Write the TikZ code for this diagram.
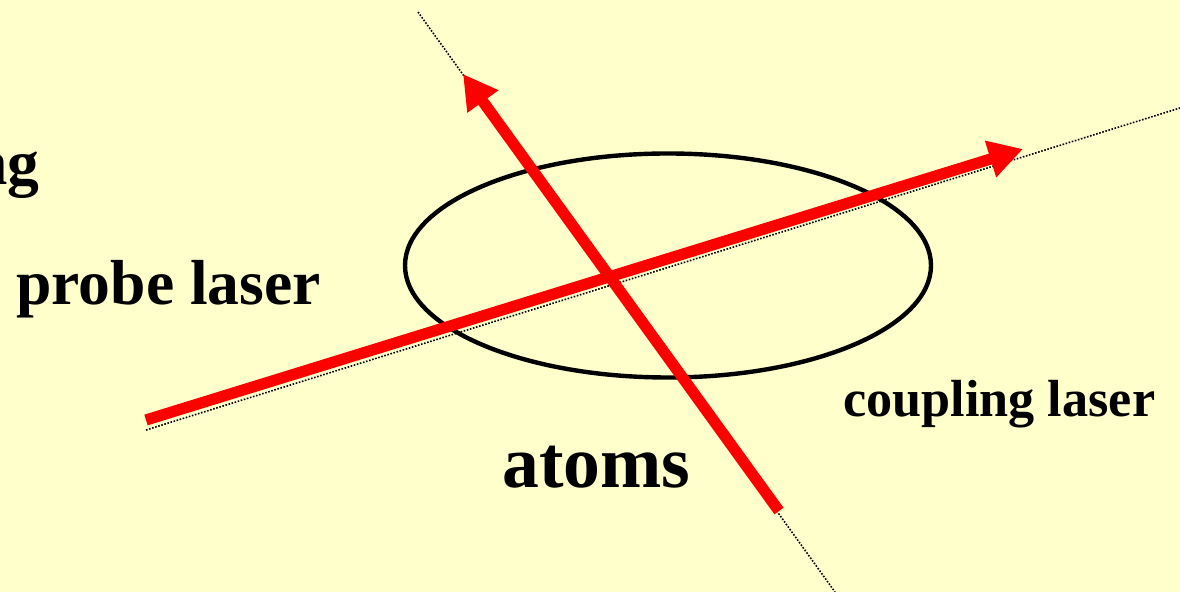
\documentclass[tikz,border=0pt]{standalone}
\usepackage{fontspec}
\setmainfont{Liberation Serif}
\usetikzlibrary{arrows.meta,shapes.geometric}
\definecolor{bgyellow}{RGB}{255,255,204}
\definecolor{laserred}{RGB}{255,0,0}
\tikzset{
  beam/.style={draw=laserred, line width=5.6pt, -{Triangle[length=17pt,width=18pt]}},
  axis/.style={draw=black, line width=0.8pt, dash pattern=on 0.8pt off 0.8pt},
  cloud/.style={ellipse, draw=black, line width=2.2pt, inner sep=0pt},
  lbl/.style={inner sep=0pt, anchor=base west, font=\bfseries},
}
\begin{document}
\begin{tikzpicture}[x=0.5pt,y=-0.5pt]
\fill[bgyellow] (0,0) rectangle (1180,592);
\useasboundingbox (0,0) rectangle (1180,592);
\clip (0,0) rectangle (1180,592);
% atom cloud
\node[cloud, minimum width=263pt, minimum height=112pt] (atoms) at (668,265.5) {};
% beam axes
\coordinate (cA) at (418,12);
\coordinate (cB) at (835,592);
\coordinate (pA) at (146,430);
\coordinate (pB) at (1180,108);
\draw[axis] (cA) -- (cB);
\draw[axis] (pA) -- (pB);
% beams
\coordinate (cStart) at (779,511);
\coordinate (cTip) at (463,74);
\coordinate (pStart) at (146,420);
\coordinate (pTip) at (1023,149);
\draw[beam] (cStart) -- (cTip);
\draw[beam] (pStart) -- (pTip);
% labels
\node[lbl, font=\bfseries\fontsize{31.8pt}{36pt}\selectfont] (probe) at (16,305) {probe laser};
\node[lbl, font=\bfseries\fontsize{26.1pt}{30pt}\selectfont] (coupling) at (843,417) {coupling laser};
\node[lbl, font=\bfseries\fontsize{36.8pt}{42pt}\selectfont] (atomslbl) at (502,488) {atoms};
\node[inner sep=0pt, anchor=base east, font=\bfseries\fontsize{31.8pt}{36pt}\selectfont] (ng) at (40,185) {ng};
\end{tikzpicture}
\end{document}
